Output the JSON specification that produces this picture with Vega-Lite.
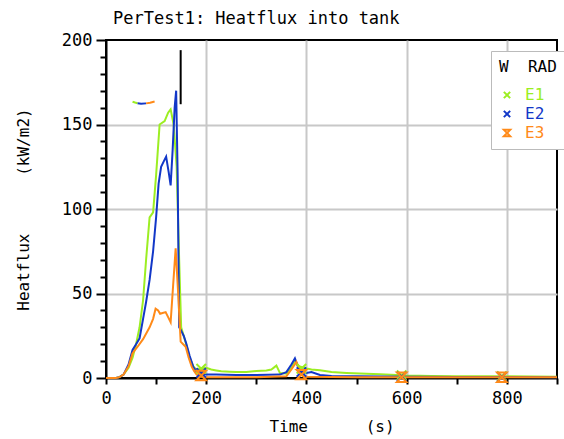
{
  "$schema": "https://vega.github.io/schema/vega-lite/v6.json",
  "width": 451,
  "height": 338,
  "autosize": "none",
  "padding": {"left": 106, "top": 40, "right": 7, "bottom": 61},
  "background": "white",
  "title": {
    "text": "PerTest1: Heatflux into tank",
    "anchor": "start",
    "frame": "group",
    "dx": 7,
    "offset": 3,
    "font": "DejaVu Sans Mono",
    "fontSize": 17,
    "fontWeight": "normal",
    "color": "black"
  },
  "datasets": {
    "series": [
      {"t": 0, "E": "E1", "v": 0}, {"t": 20, "E": "E1", "v": 0}, {"t": 27, "E": "E1", "v": 0.5}, {"t": 35, "E": "E1", "v": 2},
      {"t": 45, "E": "E1", "v": 6}, {"t": 53, "E": "E1", "v": 12}, {"t": 60, "E": "E1", "v": 20}, {"t": 67, "E": "E1", "v": 30},
      {"t": 74, "E": "E1", "v": 46}, {"t": 80, "E": "E1", "v": 70}, {"t": 87, "E": "E1", "v": 95}, {"t": 94, "E": "E1", "v": 98},
      {"t": 100, "E": "E1", "v": 120}, {"t": 107, "E": "E1", "v": 150}, {"t": 117, "E": "E1", "v": 152}, {"t": 124, "E": "E1", "v": 157},
      {"t": 129, "E": "E1", "v": 159}, {"t": 135, "E": "E1", "v": 150}, {"t": 141, "E": "E1", "v": 125}, {"t": 146, "E": "E1", "v": 70},
      {"t": 150, "E": "E1", "v": 30}, {"t": 155, "E": "E1", "v": 25}, {"t": 160, "E": "E1", "v": 20}, {"t": 167, "E": "E1", "v": 12},
      {"t": 174, "E": "E1", "v": 7}, {"t": 180, "E": "E1", "v": 5}, {"t": 190, "E": "E1", "v": 5.5}, {"t": 200, "E": "E1", "v": 6},
      {"t": 210, "E": "E1", "v": 5}, {"t": 220, "E": "E1", "v": 4.5}, {"t": 230, "E": "E1", "v": 4}, {"t": 247, "E": "E1", "v": 3.7},
      {"t": 260, "E": "E1", "v": 3.5}, {"t": 280, "E": "E1", "v": 3.5}, {"t": 300, "E": "E1", "v": 4.2}, {"t": 320, "E": "E1", "v": 4.5},
      {"t": 330, "E": "E1", "v": 5}, {"t": 340, "E": "E1", "v": 7.3}, {"t": 347, "E": "E1", "v": 3}, {"t": 360, "E": "E1", "v": 2.6},
      {"t": 370, "E": "E1", "v": 6}, {"t": 377, "E": "E1", "v": 10}, {"t": 385, "E": "E1", "v": 7}, {"t": 400, "E": "E1", "v": 5.7},
      {"t": 410, "E": "E1", "v": 5}, {"t": 427, "E": "E1", "v": 4.6}, {"t": 450, "E": "E1", "v": 3.5}, {"t": 480, "E": "E1", "v": 3},
      {"t": 520, "E": "E1", "v": 2.5}, {"t": 547, "E": "E1", "v": 2.2}, {"t": 600, "E": "E1", "v": 1.5}, {"t": 650, "E": "E1", "v": 1.2},
      {"t": 700, "E": "E1", "v": 1}, {"t": 800, "E": "E1", "v": 1}, {"t": 900, "E": "E1", "v": 0.8},

      {"t": 0, "E": "E2", "v": 0}, {"t": 20, "E": "E2", "v": 0}, {"t": 27, "E": "E2", "v": 0.5}, {"t": 35, "E": "E2", "v": 2},
      {"t": 45, "E": "E2", "v": 8}, {"t": 53, "E": "E2", "v": 16.6}, {"t": 60, "E": "E2", "v": 20}, {"t": 67, "E": "E2", "v": 23.5},
      {"t": 74, "E": "E2", "v": 35}, {"t": 80, "E": "E2", "v": 45}, {"t": 87, "E": "E2", "v": 58}, {"t": 94, "E": "E2", "v": 75},
      {"t": 100, "E": "E2", "v": 95}, {"t": 105, "E": "E2", "v": 115}, {"t": 110, "E": "E2", "v": 125}, {"t": 115, "E": "E2", "v": 128},
      {"t": 120, "E": "E2", "v": 131}, {"t": 125, "E": "E2", "v": 122}, {"t": 129, "E": "E2", "v": 114}, {"t": 133, "E": "E2", "v": 135},
      {"t": 137, "E": "E2", "v": 160}, {"t": 140, "E": "E2", "v": 170}, {"t": 143, "E": "E2", "v": 120}, {"t": 146, "E": "E2", "v": 30},
      {"t": 150, "E": "E2", "v": 28}, {"t": 155, "E": "E2", "v": 25}, {"t": 160, "E": "E2", "v": 20.6}, {"t": 167, "E": "E2", "v": 13},
      {"t": 174, "E": "E2", "v": 6.7}, {"t": 180, "E": "E2", "v": 4}, {"t": 187, "E": "E2", "v": 3}, {"t": 200, "E": "E2", "v": 2},
      {"t": 220, "E": "E2", "v": 2}, {"t": 260, "E": "E2", "v": 1.8}, {"t": 300, "E": "E2", "v": 1.8}, {"t": 347, "E": "E2", "v": 2},
      {"t": 360, "E": "E2", "v": 3.5}, {"t": 370, "E": "E2", "v": 8}, {"t": 377, "E": "E2", "v": 11.6}, {"t": 387, "E": "E2", "v": 3.5},
      {"t": 400, "E": "E2", "v": 3}, {"t": 410, "E": "E2", "v": 3.5}, {"t": 427, "E": "E2", "v": 1.8}, {"t": 450, "E": "E2", "v": 1.2},
      {"t": 500, "E": "E2", "v": 1}, {"t": 600, "E": "E2", "v": 0.8}, {"t": 700, "E": "E2", "v": 0.6}, {"t": 900, "E": "E2", "v": 0.5},

      {"t": 0, "E": "E3", "v": 0}, {"t": 20, "E": "E3", "v": 0}, {"t": 27, "E": "E3", "v": 0.5}, {"t": 35, "E": "E3", "v": 2},
      {"t": 45, "E": "E3", "v": 7}, {"t": 53, "E": "E3", "v": 14.7}, {"t": 63, "E": "E3", "v": 18.5}, {"t": 74, "E": "E3", "v": 23},
      {"t": 87, "E": "E3", "v": 30}, {"t": 94, "E": "E3", "v": 35}, {"t": 99, "E": "E3", "v": 41}, {"t": 104, "E": "E3", "v": 40},
      {"t": 108, "E": "E3", "v": 38}, {"t": 113, "E": "E3", "v": 38.5}, {"t": 119, "E": "E3", "v": 39}, {"t": 124, "E": "E3", "v": 36},
      {"t": 129, "E": "E3", "v": 33}, {"t": 134, "E": "E3", "v": 55}, {"t": 139, "E": "E3", "v": 76.7}, {"t": 144, "E": "E3", "v": 50},
      {"t": 149, "E": "E3", "v": 21.5}, {"t": 154, "E": "E3", "v": 20}, {"t": 159, "E": "E3", "v": 18.5}, {"t": 165, "E": "E3", "v": 12},
      {"t": 171, "E": "E3", "v": 6.7}, {"t": 176, "E": "E3", "v": 4}, {"t": 181, "E": "E3", "v": 2}, {"t": 190, "E": "E3", "v": 0.8},
      {"t": 200, "E": "E3", "v": 0.5}, {"t": 250, "E": "E3", "v": 0.5}, {"t": 300, "E": "E3", "v": 0.5}, {"t": 360, "E": "E3", "v": 1},
      {"t": 370, "E": "E3", "v": 5}, {"t": 380, "E": "E3", "v": 9.5}, {"t": 387, "E": "E3", "v": 4}, {"t": 393, "E": "E3", "v": 1.5},
      {"t": 400, "E": "E3", "v": 0.8}, {"t": 450, "E": "E3", "v": 0.6}, {"t": 500, "E": "E3", "v": 0.5}, {"t": 600, "E": "E3", "v": 0.5},
      {"t": 700, "E": "E3", "v": 0.4}, {"t": 900, "E": "E3", "v": 0.4}
    ],
    "markers": [
      {"t": 190, "E": "E1", "v": 5.5}, {"t": 390, "E": "E1", "v": 5.5}, {"t": 590, "E": "E1", "v": 1.6}, {"t": 790, "E": "E1", "v": 1},
      {"t": 190, "E": "E2", "v": 3}, {"t": 390, "E": "E2", "v": 3.5}, {"t": 590, "E": "E2", "v": 0.8}, {"t": 790, "E": "E2", "v": 0.6},
      {"t": 190, "E": "E3", "v": 1.5}, {"t": 390, "E": "E3", "v": 2}, {"t": 590, "E": "E3", "v": 0.5}, {"t": 790, "E": "E3", "v": 0.4}
    ],
    "stub": [
      {"t": 53, "E": "E1", "v": 163.5}, {"t": 58, "E": "E1", "v": 163}, {"t": 63, "E": "E1", "v": 162.6},
      {"t": 63, "E": "E2", "v": 162.6}, {"t": 70, "E": "E2", "v": 162.3}, {"t": 80, "E": "E2", "v": 162.5},
      {"t": 80, "E": "E3", "v": 162.5}, {"t": 88, "E": "E3", "v": 162.9}, {"t": 97, "E": "E3", "v": 163.6}
    ],
    "bar": [
      {"t": 149, "v": 162, "hi": 194}
    ]
  },
  "layer": [
    {
      "data": {"name": "series"},
      "mark": {"type": "line", "strokeWidth": 2}
    },
    {
      "data": {"name": "stub"},
      "mark": {"type": "line", "strokeWidth": 2}
    },
    {
      "data": {"name": "bar"},
      "mark": {"type": "rule", "color": "black", "strokeWidth": 2},
      "encoding": {
        "y2": {"field": "hi"},
        "color": {"value": "black"}
      }
    },
    {
      "data": {"name": "markers"},
      "mark": {"type": "point", "filled": false, "strokeWidth": 2, "size": 90, "opacity": 1},
      "encoding": {
        "shape": {
          "field": "E",
          "type": "nominal",
          "scale": {"domain": ["E1", "E2", "E3"], "range": ["M-1,-1L1,1M1,-1L-1,1", "M-1,-1L1,1M1,-1L-1,1", "M-1,-1L1,-1L-1,1L1,1Z"]},
          "legend": {"title": "W\u00a0\u00a0RAD"}
        }
      }
    }
  ],
  "encoding": {
    "x": {
      "field": "t",
      "type": "quantitative",
      "scale": {"domain": [0, 900], "nice": false, "zero": false},
      "axis": {
        "title": "Time\u00a0\u00a0\u00a0\u00a0\u00a0\u00a0(s)",
        "values": [0, 100, 200, 300, 400, 500, 600, 700, 800, 900],
        "ticks": true,
        "tickSize": 6,
        "labelExpr": "datum.value % 200 === 0 ? datum.label : ''",
        "gridOpacity": {"condition": {"test": "datum.value % 200 === 0 && datum.value > 0", "value": 1}, "value": 0},
        "encode": {"ticks": {"update": {"stroke": {"value": "black"}, "strokeOpacity": {"value": 1}, "strokeWidth": {"value": 2}}}}
      }
    },
    "y": {
      "field": "v",
      "type": "quantitative",
      "scale": {"domain": [0, 200], "nice": false},
      "axis": {
        "title": "Heatflux\u00a0\u00a0\u00a0\u00a0\u00a0\u00a0(kW/m2)",
        "values": [0, 10, 20, 30, 40, 50, 60, 70, 80, 90, 100, 110, 120, 130, 140, 150, 160, 170, 180, 190, 200],
        "ticks": true,
        "labelExpr": "datum.value % 50 === 0 ? datum.label : ''",
        "tickSize": {"condition": {"test": "datum.value % 50 === 0", "value": 10}, "value": 6},
        "gridOpacity": {"condition": {"test": "datum.value % 50 === 0 && datum.value > 0 && datum.value < 200", "value": 1}, "value": 0},
        "encode": {"ticks": {"update": {"stroke": {"value": "black"}, "strokeOpacity": {"value": 1}, "strokeWidth": {"value": 2}}}}
      }
    },
    "color": {
      "field": "E",
      "type": "nominal",
      "scale": {"domain": ["E1", "E2", "E3"], "range": ["#9cee22", "#1237c8", "#ff8a18"]},
      "legend": {
        "title": "W\u00a0\u00a0RAD",
        "encode": {"labels": {"update": {"fill": {"scale": "color", "field": "value"}}}}
      }
    }
  },
  "config": {
    "font": "DejaVu Sans Mono",
    "view": {"stroke": "black", "strokeWidth": 2},
    "axis": {
      "domainColor": "black",
      "domainWidth": 2,
      "tickColor": "black",
      "tickWidth": 2,
      "gridColor": "#c8c8c8",
      "gridWidth": 2,
      "labelFont": "DejaVu Sans Mono",
      "labelFontSize": 17,
      "labelColor": "black",
      "titleFont": "DejaVu Sans Mono",
      "titleFontSize": 16,
      "titleFontWeight": "normal",
      "titleColor": "black"
    },
    "axisX": {"labelPadding": 6, "titlePadding": 12, "labelFlush": false},
    "axisY": {"labelPadding": 4, "titlePadding": 30},
    "legend": {
      "orient": "none",
      "legendX": 385,
      "legendY": 11,
      "padding": 8,
      "fillColor": "white",
      "strokeColor": "#bbbbbb",
      "titleFont": "DejaVu Sans Mono",
      "titleFontSize": 16,
      "titleFontWeight": "normal",
      "titleColor": "black",
      "titlePadding": 12,
      "labelFont": "DejaVu Sans Mono",
      "labelFontSize": 16,
      "labelOffset": 10,
      "symbolSize": 40,
      "symbolStrokeWidth": 2,
      "rowPadding": 3
    }
  }
}
